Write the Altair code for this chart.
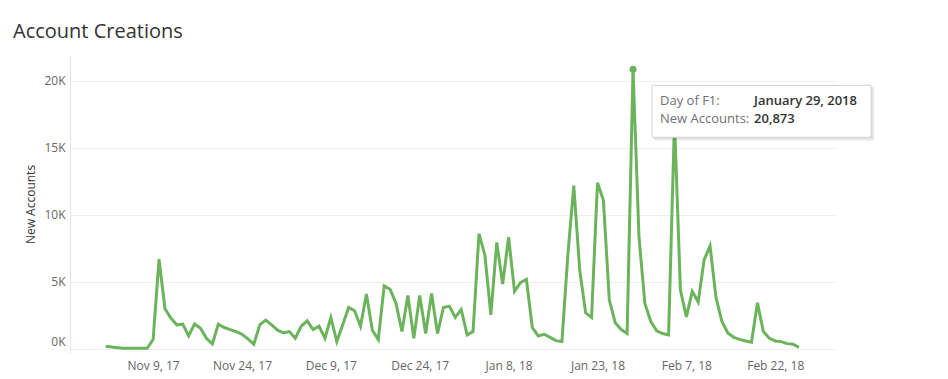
import altair as alt
import pandas as pd

# ---- data ----
start_date = "2017-11-01"
new_accounts = [
    200, 150, 100, 50, 50, 50, 50, 50, 700, 6700,
    3000, 2300, 1800, 1850, 970, 1870, 1550, 800, 370, 1850,
    1600, 1450, 1300, 1100, 750, 350, 1800, 2150, 1800, 1400,
    1200, 1300, 800, 1700, 2100, 1450, 1700, 800, 2350, 550,
    1800, 3100, 2850, 1700, 4100, 1400, 700, 4700, 4450, 3400,
    1300, 4000, 800, 4000, 1150, 4150, 1150, 3100, 3200, 2350,
    2950, 1050, 1300, 8600, 7000, 2550, 7950, 4850, 8350, 4300,
    4950, 5200, 1600, 970, 1100, 870, 620, 550, 7000, 12200,
    5900, 2700, 2350, 12400, 11100, 3650, 1950, 1450, 1150, 20873,
    8400, 3400, 2050, 1350, 1150, 1050, 17000, 4400, 2400, 4300,
    3500, 6650, 7700, 3850, 2050, 1200, 870, 720, 600, 500,
    3450, 1300, 800, 600, 550, 400, 350, 120,
]
tick_dates = ["2017-11-09", "2017-11-24", "2017-12-09", "2017-12-24",
              "2018-01-08", "2018-01-23", "2018-02-07", "2018-02-22"]
y_ticks = [0, 5000, 10000, 15000, 20000]
tip_labels = ["Day of F1:", "New Accounts:"]

dates = pd.date_range(start_date, periods=len(new_accounts), freq="D")
df = pd.DataFrame({"date": dates.strftime("%Y-%m-%d"), "accounts": new_accounts})

peak_i = max(range(len(new_accounts)), key=lambda i: new_accounts[i])
peak = df.iloc[[peak_i]].copy()
peak["tip_date"] = dates[peak_i].strftime("%B %-d, %Y")
peak["tip_value"] = f"{new_accounts[peak_i]:,}"
peak["l1"] = tip_labels[0]
peak["l2"] = tip_labels[1]

DAY = 86400000
t0 = int(pd.Timestamp(start_date, tz="UTC").value // 10**6)
x_domain = [t0 - 6.03 * DAY, t0 + 123.09 * DAY]
x_values = [int(pd.Timestamp(d, tz="UTC").value // 10**6) for d in tick_dates]

FONT = "Open Sans"
GREEN = "#6bb45c"

x_enc = alt.X(
    "date:T",
    scale=alt.Scale(type="utc", domain=x_domain),
    axis=alt.Axis(
        title=None, values=x_values, format="%b %-d, %y", grid=False,
        domain=False, ticks=False, labelPadding=7, labelFontSize=12,
        labelColor="#666666", labelFont=FONT,
    ),
)
y_enc = alt.Y(
    "accounts:Q",
    scale=alt.Scale(domain=[-300, 21940], nice=False, zero=False),
    axis=alt.Axis(
        title="New Accounts", values=y_ticks,
        labelExpr="datum.value / 1000 + 'K'",
        labelBaseline=alt.ExprRef(expr="datum.value == 0 ? 'bottom' : 'middle'"),
        grid=True, gridColor="#efefef", ticks=False,
        domain=True, domainColor="#e4e4e4", labelPadding=5,
        labelFontSize=12, labelColor="#666666", labelFont=FONT,
        titleFont=FONT, titleFontSize=12, titleFontWeight="normal",
        titleColor="#333333", titleX=-40, titleBaseline="middle",
    ),
)

line = alt.Chart(df).mark_line(color=GREEN, strokeWidth=3).encode(x=x_enc, y=y_enc)

pbase = alt.Chart(peak)
pt = pbase.mark_point(filled=True, color=GREEN, size=50, opacity=1).encode(
    x="date:T", y="accounts:Q")

shadow = pbase.mark_rect(
    color="#000000", opacity=0.10,
    xOffset=21, x2Offset=241, yOffset=18, y2Offset=71,
).encode(x="date:T", x2="date", y="accounts:Q", y2="accounts")
box = pbase.mark_rect(
    fill="white", stroke="#d0d0d0", strokeWidth=1,
    xOffset=19, x2Offset=238, yOffset=16, y2Offset=68,
).encode(x="date:T", x2="date", y="accounts:Q", y2="accounts")

def tip_text(field, dx, dy, bold):
    return pbase.mark_text(
        align="left", baseline="middle", dx=dx, dy=dy, font=FONT, fontSize=13,
        fontWeight=600 if bold else "normal",
        color="#333333" if bold else "#707070",
    ).encode(x="date:T", y="accounts:Q", text=field + ":N")

t1 = tip_text("l1", 27, 32, False)
t2 = tip_text("tip_date", 121, 32, True)
t3 = tip_text("l2", 27, 50, False)
t4 = tip_text("tip_value", 121, 50, True)

chart = (
    alt.layer(line, pt, shadow, box, t1, t2, t3, t4)
    .properties(
        width=765, height=298,
        autosize=alt.AutoSizeParams(type="none"),
        padding={"left": 62, "top": 47, "right": 100, "bottom": 24},
        title=alt.TitleParams(
            "Account Creations", anchor="start", frame="group", dx=-57, dy=22,
            font=FONT, fontSize=20, fontWeight="normal", color="#333333",
            baseline="alphabetic", offset=19,
        ),
        background="white",
    )
    .configure_view(stroke=None)
)

chart.save("out.html", embed_options={"renderer": "svg", "actions": False})
